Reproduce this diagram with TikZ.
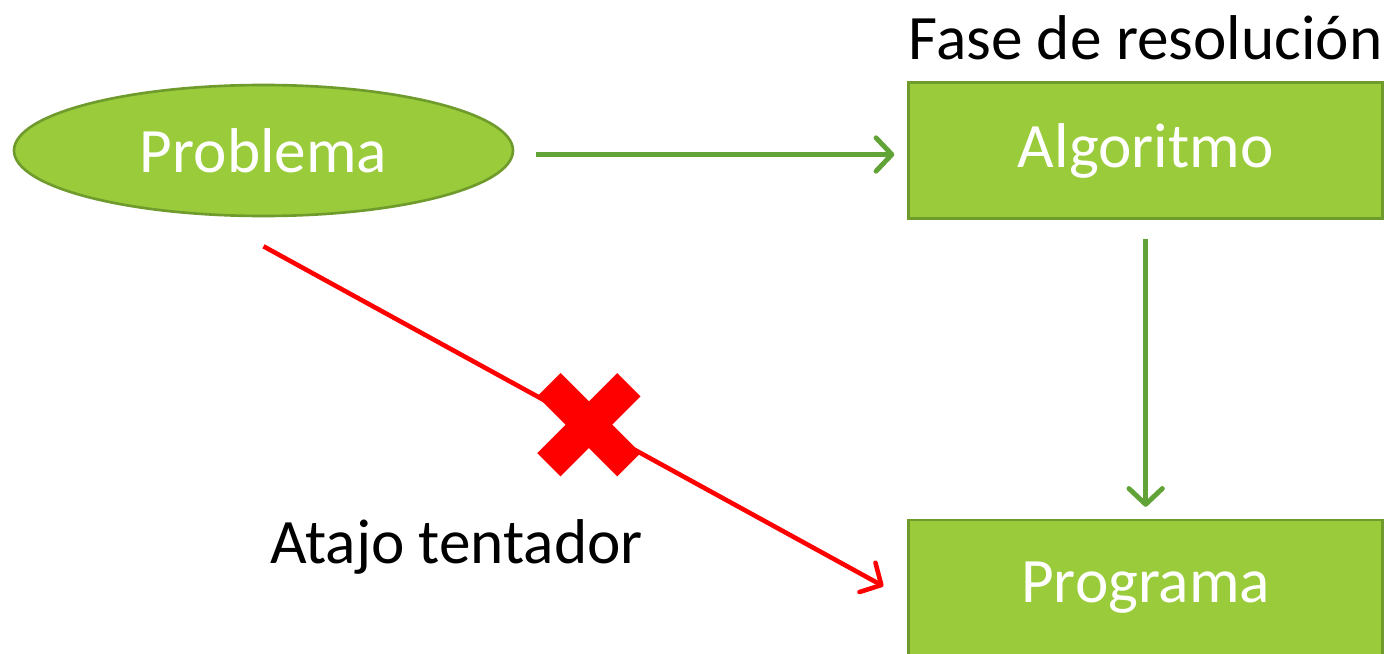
\documentclass[tikz,border=0pt]{standalone}
\usepackage{fontspec}
\setmainfont{Carlito}
\usetikzlibrary{positioning, shapes.geometric, arrows.meta}

\definecolor{leafgreen}{HTML}{9ACB3B}
\definecolor{leafedge}{HTML}{6F9A2C}
\definecolor{arrowgreen}{HTML}{62A338}
\definecolor{crossred}{HTML}{FF0000}

\tikzset{
  stage/.style={rectangle, draw=leafedge, line width=1.5pt, fill=leafgreen, text=white,
    minimum width=9.48cm, minimum height=2.72cm, inner sep=0pt, font=\fontsize{36}{43}\selectfont},
  start/.style={ellipse, draw=leafedge, line width=1.5pt, fill=leafgreen, text=white,
    minimum width=9.98cm, minimum height=2.62cm, inner sep=0pt, font=\fontsize{36}{43}\selectfont},
  label/.style={inner sep=0pt, font=\fontsize{36}{43}\selectfont},
  goodarrow/.style={draw=arrowgreen, line width=2.8pt, -{Straight Barb[length=9pt, width=19pt, round]}},
  badarrow/.style={draw=crossred, line width=2.6pt, -{Straight Barb[length=9pt, width=19pt, round]}}
}

\begin{document}
\begin{tikzpicture}
        \useasboundingbox (0,0) rectangle (27.7,-13.08);

        %-----Entities-----

        % Problema Entity
        \node[start] (problema) at (5.27,-3.01) {Problema};

        % Algoritmo Entity
        \node[stage, right=7.86cm of problema] (algoritmo) {Algoritmo};

        % Programa Entity
        \node[stage, below=5.98cm of algoritmo] (programa) {Programa};

        % Labels
        \node[label, above=0.42cm of algoritmo] (fase) {Fase de resolución};
        \node[label, anchor=base] (atajo) at (9.13,-11.26) {Atajo tentador};

        %-----Connections-----

        % Problema to Algoritmo
        \draw[goodarrow, shorten <=0.44cm, shorten >=0.26cm]
          ([yshift=-0.08cm]problema.east) -- ([yshift=-0.08cm]algoritmo.west);

        % Algoritmo to Programa
        \draw[goodarrow, shorten <=0.38cm, shorten >=0.24cm] (algoritmo) -- (programa);

        % Problema to Programa (shortcut)
        \draw[badarrow] ([yshift=-0.58cm]problema.south) -- ([xshift=-0.48cm, yshift=0.04cm]programa.west)
          coordinate[pos=0.525] (cross);

        % red cross over the shortcut
        \draw[crossred, line width=0.66cm] (cross) ++(-0.8,0.8) -- ++(1.6,-1.6);
        \draw[crossred, line width=0.66cm] (cross) ++(-0.8,-0.8) -- ++(1.6,1.6);

    \end{tikzpicture}
\end{document}
